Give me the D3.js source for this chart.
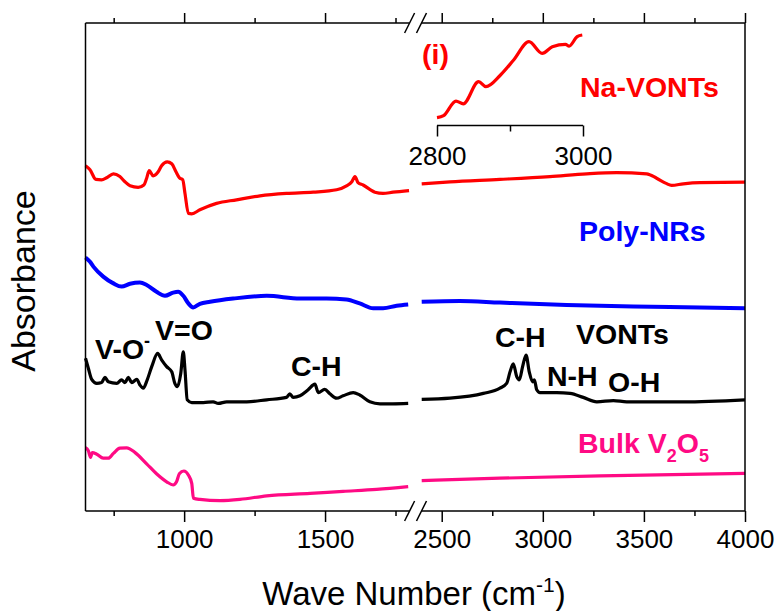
<!DOCTYPE html>
<html><head><meta charset="utf-8">
<script src="https://cdn.jsdelivr.net/npm/d3@7"></script>
<style>
html,body{margin:0;padding:0;background:#fff;}
svg{display:block;font-family:"Liberation Sans",Arial,sans-serif;}
</style></head>
<body><svg id="chart" width="779" height="611"></svg>
<script>
// ---------- data ----------
const leftMajorTicks = [1000, 1500];
const leftMinorTicks = [750, 1250, 1750];
const rightMajorTicks = [2500, 3000, 3500, 4000];
const rightMinorTicks = [2750, 3250, 3750];
const insetTicks = [2800, 3000];
const insetMinorTicks = [2900];

// Na-VONTs (red)
const naWave = [650,666,687,707,725,749,772,790,808,837,857,867,876,890,908,920,940,956,971,983,995,1003,1015,1027,1056,1115,1186,1269,1363,1458,1541,1576,1595,1606,1617,1635,1677,1706,1741,1798,
  2401,2541,2788,3035,3217,3365,3514,3563,3610,3637,3695,3777,4000];
const naAbs = [86.3,85.3,82.9,82.8,83.3,84.3,83.6,82.3,81.3,80.9,81.5,83.2,85.1,83.8,84.8,86.3,87.3,86.8,84.8,83.3,82.8,79.4,74.4,74.3,75.3,76.9,77.8,78.8,79.4,79.7,80.3,81.3,82.3,83.6,82.1,81.5,79.7,79.4,79.7,80.1,
  81.8,82.3,82.9,83.6,84.3,84.6,84.3,83.2,81.9,81.4,81.8,82.1,82.2];

// Poly-NRs (blue)
const polyWave = [650,666,678,713,749,778,808,843,867,902,932,961,979,997,1015,1032,1056,1092,1174,1293,1411,1505,1576,1623,1671,1706,1754,1795,
  2401,2590,2788,3118,3448,3777,4000];
const polyAbs = [63.4,62.3,61.1,58.6,56.9,56.1,56.8,57.1,56.5,54.8,53.8,54.6,54.8,53.8,51.9,50.9,51.8,52.3,53.1,53.8,53.1,53.1,52.9,51.9,50.7,50.7,51.3,51.6,
  52.3,52.5,52.1,51.5,51.1,50.9,50.7];

// VONTs (black)
const vontWave = [650,660,672,690,707,719,731,761,778,790,802,814,832,843,855,869,885,906,920,938,956,967,976,988,997,1003,1011,1027,1068,1103,1121,1151,1222,1293,1363,1375,1387,1411,1440,1464,1476,1499,1517,1541,1564,1600,1623,1659,1695,1741,1795,
  2401,2541,2706,2788,2821,2838,2854,2871,2884,2900,2917,2933,2950,2958,2970,2986,3069,3135,3200,3267,3349,3415,3530,3695,4000];
const vontAbs = [38.2,35.7,32.9,31.9,32.1,33.4,32.3,31.9,32.8,32.1,33.4,32.1,32.9,31.5,30.7,32.8,36.1,39.4,37.8,36.1,34.8,31.9,31.1,34.4,39.8,35.3,27.8,27.1,27.1,27.3,26.9,27.3,27.3,27.8,28.4,29.3,28.4,28.8,30.3,31.7,29.6,30.4,29.3,28.2,28.8,29.6,29.0,27.3,26.8,26.8,26.9,
  27.9,28.2,29.4,30.7,31.9,34.8,36.8,33.6,32.8,36.1,39.0,34.8,32.3,32.8,30.3,29.6,29.6,29.4,28.4,27.3,27.6,27.3,27.3,27.3,27.8];

// Bulk V2O5 (pink)
const bulkWave = [650,660,668,674,690,713,731,749,772,796,826,867,902,938,961,973,983,999,1015,1027,1033,1056,1127,1198,1293,1447,1564,1683,1795,
  2401,2788,3283,4000];
const bulkAbs = [15.8,15.1,13.4,14.6,14.2,13.2,13.2,14.4,15.7,15.8,14.6,11.8,9.3,7.3,6.5,7.3,9.3,10.0,9.0,6.9,3.2,2.9,2.6,2.9,3.8,4.4,4.9,5.4,6.1,
  7.6,8.2,8.8,9.4];

// Inset (i): Na-VONTs 2800-3000
const insetWave = [2800,2809,2826,2836,2857,2867,2887,2905,2926,2944,2958,2976,2981,2992,2999];
const insetAbs = [2.6,4.8,21,18,42.6,37,50,66.7,87,74,81.4,84,82,92.6,94.4];

// ---------- drawing ----------
const svg = d3.select("#chart");
const xL = d3.scaleLinear().domain([650, 1800]).range([85.5, 409.6]);
const xR = d3.scaleLinear().domain([2400, 4000]).range([421.5, 745]);
const y = d3.scaleLinear().domain([0, 122]).range([511, 23]);
const yTop = 23, yBot = 511;

const series = [
  {w: naWave, a: naAbs, color: "#ff0000", sw: 3.2},
  {w: polyWave, a: polyAbs, color: "#0000ff", sw: 4},
  {w: vontWave, a: vontAbs, color: "#000000", sw: 3.2},
  {w: bulkWave, a: bulkAbs, color: "#ff0a84", sw: 3.2}
];

series.forEach(s => {
  const pts = s.w.map((w, i) => ({w, a: s.a[i]}));
  const left = pts.filter(p => p.w < 2000);
  const right = pts.filter(p => p.w > 2000);
  const lineL = d3.line().x(p => xL(p.w)).y(p => y(p.a)).curve(d3.curveMonotoneX);
  const lineR = d3.line().x(p => xR(p.w)).y(p => y(p.a)).curve(d3.curveMonotoneX);
  [[left, lineL], [right, lineR]].forEach(([d, ln]) => {
    svg.append("path").attr("d", ln(d)).attr("fill", "none")
      .attr("stroke", s.color).attr("stroke-width", s.sw)
      .attr("stroke-linejoin", "round").attr("stroke-linecap", "butt");
  });
});

// axes
function styleAxis(g) {
  g.select(".domain").remove();
  g.selectAll("line").attr("stroke", "#000").attr("stroke-width", 1.5);
  g.selectAll("text").attr("font-size", 26).attr("fill", "#000")
    .attr("font-family", "Liberation Sans, Arial, sans-serif");
}
const fmt = d3.format("d");
// bottom
svg.append("g").attr("transform", `translate(0,${yBot})`)
  .call(d3.axisBottom(xL).tickValues(leftMajorTicks).tickSize(11).tickPadding(8).tickFormat(fmt)).call(styleAxis);
svg.append("g").attr("transform", `translate(0,${yBot})`)
  .call(d3.axisBottom(xL).tickValues(leftMinorTicks).tickSize(5).tickFormat("")).call(styleAxis);
svg.append("g").attr("transform", `translate(0,${yBot})`)
  .call(d3.axisBottom(xR).tickValues(rightMajorTicks).tickSize(11).tickPadding(8).tickFormat(fmt)).call(styleAxis);
svg.append("g").attr("transform", `translate(0,${yBot})`)
  .call(d3.axisBottom(xR).tickValues(rightMinorTicks).tickSize(5).tickFormat("")).call(styleAxis);
// top
svg.append("g").attr("transform", `translate(0,${yTop})`)
  .call(d3.axisTop(xL).tickValues(leftMajorTicks).tickSize(10).tickFormat("")).call(styleAxis);
svg.append("g").attr("transform", `translate(0,${yTop})`)
  .call(d3.axisTop(xL).tickValues(leftMinorTicks).tickSize(5).tickFormat("")).call(styleAxis);
svg.append("g").attr("transform", `translate(0,${yTop})`)
  .call(d3.axisTop(xR).tickValues(rightMajorTicks).tickSize(10).tickFormat("")).call(styleAxis);
svg.append("g").attr("transform", `translate(0,${yTop})`)
  .call(d3.axisTop(xR).tickValues(rightMinorTicks).tickSize(5).tickFormat("")).call(styleAxis);

// axis lines
const ax = svg.append("g").attr("stroke", "#000").attr("stroke-width", 1.5).attr("fill", "none");
[yTop, yBot].forEach(yy => {
  ax.append("line").attr("x1", xL.range()[0]).attr("x2", xL.range()[1]).attr("y1", yy).attr("y2", yy);
  ax.append("line").attr("x1", xR.range()[0]).attr("x2", xR.range()[1]).attr("y1", yy).attr("y2", yy);
  [xL.range()[1], xR.range()[0]].forEach(cx => {
    ax.append("line").attr("x1", cx - 5).attr("y1", yy + 10).attr("x2", cx + 5).attr("y2", yy - 10);
  });
});
ax.append("line").attr("x1", xL.range()[0]).attr("x2", xL.range()[0]).attr("y1", yTop).attr("y2", yBot);
ax.append("line").attr("x1", xR.range()[1]).attr("x2", xR.range()[1]).attr("y1", yTop).attr("y2", yBot);

// axis titles
svg.append("text").attr("x", 414).attr("y", 605).attr("text-anchor", "middle")
  .attr("font-size", 33).attr("fill", "#000")
  .html('Wave Number (cm<tspan dy="-13" font-size="21">-1</tspan><tspan dy="13">)</tspan>');
svg.append("text").attr("transform", "translate(35,281) rotate(-90)").attr("text-anchor", "middle")
  .attr("font-size", 34).attr("fill", "#000").text("Absorbance");

// inset
const xi = d3.scaleLinear().domain([2800, 3000]).range([437, 583]);
const yi = d3.scaleLinear().domain([0, 100]).range([120, 30]);
const insetY = 125.5;
svg.append("path").attr("d", d3.line().x((d, i) => xi(d)).y((d, i) => yi(insetAbs[i])).curve(d3.curveMonotoneX)(insetWave))
  .attr("fill", "none").attr("stroke", "#ff0000").attr("stroke-width", 3.2).attr("stroke-linejoin", "round");
svg.append("g").attr("transform", `translate(0,${insetY})`)
  .call(d3.axisBottom(xi).tickValues(insetTicks).tickSize(11).tickPadding(10).tickFormat(fmt)).call(styleAxis);
svg.append("g").attr("transform", `translate(0,${insetY})`)
  .call(d3.axisBottom(xi).tickValues(insetMinorTicks).tickSize(6).tickFormat("")).call(styleAxis);
svg.append("line").attr("x1", xi.range()[0]).attr("x2", xi.range()[1]).attr("y1", insetY).attr("y2", insetY)
  .attr("stroke", "#000").attr("stroke-width", 1.5);

// labels
const labels = [
  {t: "(i)", x: 422, y: 64, c: "#ff0000"},
  {t: "Na-VONTs", x: 580, y: 97, c: "#ff0000"},
  {t: "Poly-NRs", x: 579, y: 241, c: "#0000ff"},
  {t: "VONTs", x: 576, y: 344, c: "#000"},
  {t: "C-H", x: 495, y: 347, c: "#000"},
  {t: "N-H", x: 547, y: 386, c: "#000"},
  {t: "O-H", x: 608, y: 392, c: "#000"},
  {t: "V=O", x: 155, y: 340, c: "#000"},
  {t: "C-H", x: 291, y: 376, c: "#000"}
];
labels.forEach(l => {
  svg.append("text").attr("x", l.x).attr("y", l.y).attr("font-size", 28.5).attr("font-weight", "bold")
    .attr("fill", l.c).text(l.t);
});
svg.append("text").attr("x", 95).attr("y", 359).attr("font-size", 28.5).attr("font-weight", "bold").attr("fill", "#000")
  .html('V-O<tspan dy="-12" font-size="18">-</tspan>');
svg.append("text").attr("x", 578).attr("y", 453).attr("font-size", 28.5).attr("font-weight", "bold").attr("fill", "#ff0a84")
  .html('Bulk V<tspan dy="9" font-size="18">2</tspan><tspan dy="-9">O</tspan><tspan dy="9" font-size="18">5</tspan>');
</script>
</body></html>
